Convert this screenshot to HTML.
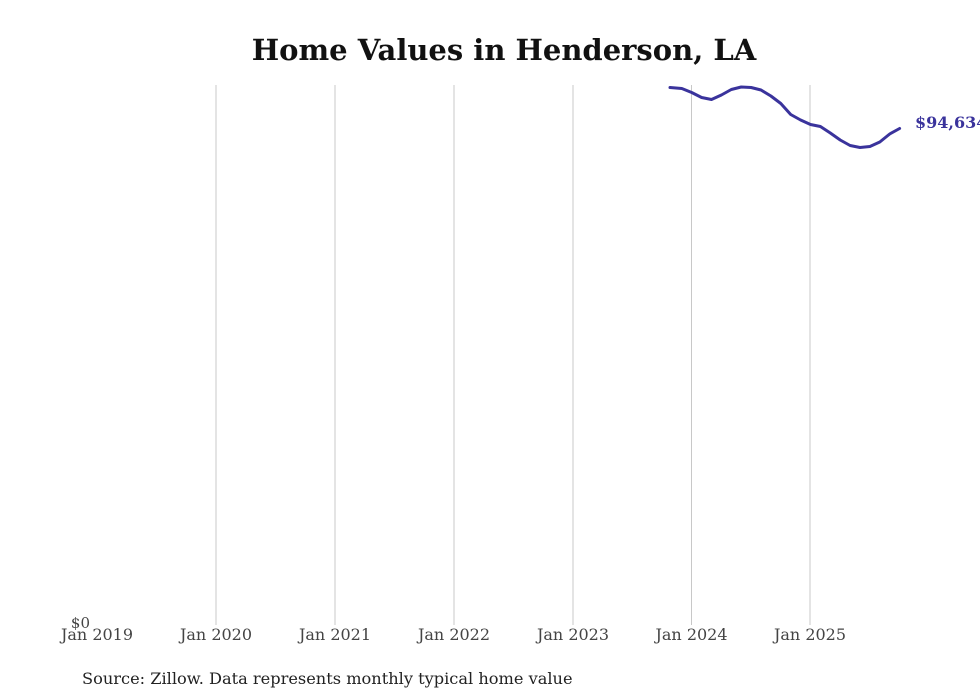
<!DOCTYPE html>
<html><head><meta charset="utf-8"><style>
html,body{margin:0;padding:0;background:#fff;}
svg{display:block;}
</style></head><body>
<svg width="980" height="699" viewBox="0 0 980 699" xmlns="http://www.w3.org/2000/svg">
<rect width="980" height="699" fill="#fff"/>
<text x="504" y="60" text-anchor="middle" font-family="'DejaVu Serif','Liberation Serif',serif" font-weight="bold" font-size="29" fill="#111">Home Values in Henderson, LA</text>
<g stroke="#c8c8c8" stroke-width="1">
<line x1="216" y1="85" x2="216" y2="625"/>
<line x1="335" y1="85" x2="335" y2="625"/>
<line x1="454" y1="85" x2="454" y2="625"/>
<line x1="573" y1="85" x2="573" y2="625"/>
<line x1="691.5" y1="85" x2="691.5" y2="625"/>
<line x1="810" y1="85" x2="810" y2="625"/>
</g>
<g font-family="'DejaVu Serif','Liberation Serif',serif" font-size="16" fill="#444" text-anchor="middle">
<text x="97" y="640">Jan 2019</text>
<text x="216" y="640">Jan 2020</text>
<text x="335" y="640">Jan 2021</text>
<text x="454" y="640">Jan 2022</text>
<text x="573" y="640">Jan 2023</text>
<text x="691.5" y="640">Jan 2024</text>
<text x="810" y="640">Jan 2025</text>
</g>
<text x="90" y="628" text-anchor="end" font-family="'DejaVu Serif','Liberation Serif',serif" font-size="15" fill="#444">$0</text>
<polyline fill="none" stroke="#3a339c" stroke-width="3" stroke-linejoin="round" stroke-linecap="round"
points="670,87.5 681.8,88.5 691.7,92.5 701.6,97.5 711.5,99.5 721.4,95 731.3,89.5 741.2,87 751.1,87.5 761,90 770.9,96 780.8,103.5 790.7,114.5 800.6,120 810.5,124.5 820.4,126.5 830.3,133 840.2,140 850.1,145.5 860,147.5 869.9,146.5 879.8,142 889.7,134 899.6,128.5"/>
<text x="915" y="128" font-family="'DejaVu Serif','Liberation Serif',serif" font-weight="bold" font-size="16" fill="#3a339c">$94,634</text>
<text x="82" y="684" font-family="'DejaVu Serif','Liberation Serif',serif" font-size="16.2" fill="#222">Source: Zillow. Data represents monthly typical home value</text>
</svg>
</body></html>
